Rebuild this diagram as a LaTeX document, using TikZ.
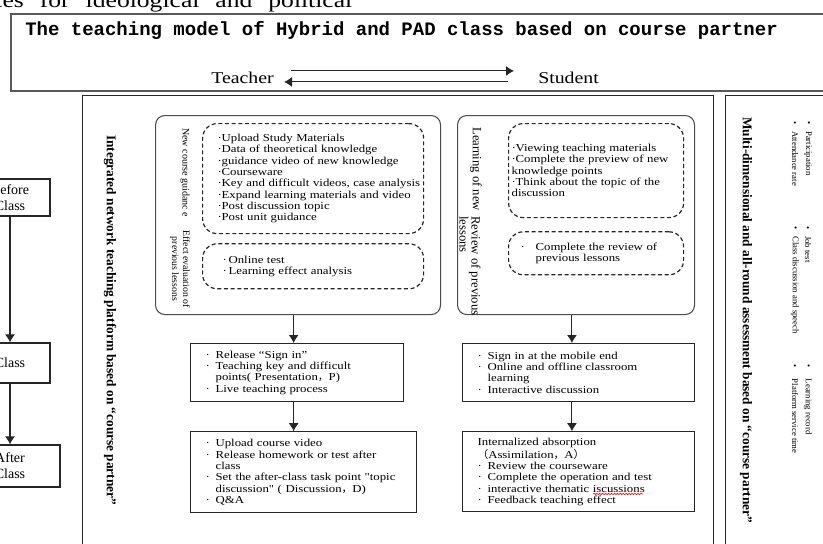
\documentclass[tikz,border=0pt]{standalone}
\usepackage{fontspec}
\setmainfont{Liberation Serif}
\newfontfamily\widefont{Liberation Serif}[FakeStretch=1.2]
\newfontfamily\headfont{Liberation Mono}
\newfontfamily\cjk{Noto Sans CJK SC}
\usepackage{tikz}
\usetikzlibrary{positioning, arrows.meta, decorations.pathmorphing}

\newcommand{\boxtext}{\widefont\fontsize{8pt}{8.5pt}\selectfont}
\newcommand{\bul}[1]{\makebox[#1][l]{·}}
\newcommand{\fw}[1]{{\cjk #1}}

\tikzset{
  outline/.style={draw=black!85, line width=0.9pt, anchor=north west, inner sep=0pt},
  panel/.style={draw=black!70, line width=0.8pt, rounded corners=7pt, anchor=north west, inner sep=0pt},
  itembox/.style={draw=black!85, line width=0.9pt, anchor=north west, align=left, inner ysep=0pt, font=\boxtext},
  dashbox/.style={itembox, dash pattern=on 3pt off 2pt, rounded corners=11pt},
  phasebox/.style={draw=black!85, line width=0.9pt, align=center, inner sep=0pt, font=\fontsize{10.5pt}{12pt}\selectfont},
  vlabel/.style={rotate=-90, inner sep=0pt},
  flow/.style={-{Latex[length=6pt,width=7.5pt]}, line width=0.8pt, draw=black!85},
}

\begin{document}
\begin{tikzpicture}[x=0.75pt, y=-0.75pt]
  \useasboundingbox (0,0) rectangle (823,543);
  \clip (0,0) rectangle (823,543);

  % header
  \node[anchor=base west, inner sep=0pt, font=\widefont\fontsize{16pt}{16pt}\selectfont] (caption) at (-9,7) {\makebox[270.75pt][s]{ces for ideological and political}};
  \node[outline, draw=black!65, line width=1.3pt, minimum width=622.5pt, minimum height=57.75pt] (header) at (10,13) {};
  \node[anchor=base west, inner sep=0pt, font=\headfont\bfseries\fontsize{14.25pt}{14.25pt}\selectfont] (title) at (25,35) {The teaching model of Hybrid and PAD class based on course partner};
  \node[anchor=base west, inner sep=0pt, font=\widefont\fontsize{12.4pt}{12.4pt}\selectfont] (teacher) at (211,83) {Teacher};
  \node[anchor=base west, inner sep=0pt, font=\widefont\fontsize{12.4pt}{12.4pt}\selectfont] (student) at (538,83) {Student};
  \draw[flow] ([xshift=12.75pt,yshift=4.8pt]teacher.east) -- ([xshift=-18pt,yshift=4.8pt]student.west);
  \draw[flow] ([xshift=-22.5pt,yshift=-3.45pt]student.west) -- ([xshift=7.5pt,yshift=-3.45pt]teacher.east);

  % phases
  \node[phasebox, minimum width=60pt, minimum height=27.75pt] (before) at (10,197.5) {Before\\Class};
  \node[phasebox, minimum width=60pt, minimum height=30pt] (inclass) at (10,363) {Class};
  \node[phasebox, minimum width=75pt, minimum height=31.5pt] (after) at (10,466) {After\\Class};
  \draw[flow] (before) -- (inclass);
  \draw[flow] (inclass) -- (after);

  % platform and assessment panels
  \node[outline, minimum width=473pt, minimum height=348.75pt] (platform) at (82,95) {};
  \node[outline, minimum width=90pt, minimum height=348.75pt] (assess) at (725,95) {};
  \node[vlabel, anchor=west, font=\bfseries\fontsize{10pt}{12pt}\selectfont] (platformtitle) at (110,135) {Integrated network teaching platform based on “course partner”};
  \node[vlabel, anchor=west, font=\bfseries\fontsize{10pt}{12pt}\selectfont] (assesstitle) at (746,117) {Multi-dimensional and all-round assessment based on “course partner”};

  % teacher side
  \node[panel, minimum width=213.75pt, minimum height=149.25pt] (tpanel) at (155,115) {};
  \node[vlabel, anchor=west, font=\fontsize{7.5pt}{9pt}\selectfont] (guidelbl) at (185,128) {New course guidanc e};
  \node[vlabel, align=center, font=\fontsize{7.3pt}{8.3pt}\selectfont] (effectlbl) at (180,269) {Effect evaluation of\\previous lessons};
  \node[dashbox, minimum height=82.5pt, inner xsep=11.25pt, text width=143.25pt] (guide) at (202,123) {%
    \bul{3pt}Upload Study Materials\\
    \bul{3pt}Data of theoretical knowledge\\
    \bul{3pt}guidance video of new knowledge\\
    \bul{3pt}Courseware\\
    \bul{3pt}\mbox{Key and difficult videos, case analysis}\\
    \bul{3pt}\mbox{Expand learning materials and video}\\
    \bul{3pt}Post discussion topic\\
    \bul{3pt}Post unit guidance};
  \node[dashbox, minimum height=33.75pt, inner xsep=15pt, text width=135.75pt,
        below=6.75pt of guide.south west, anchor=north west] (effect) {%
    \bul{4.5pt}Online test\\
    \bul{4.5pt}Learning effect analysis};

  % student side
  \node[panel, minimum width=177.75pt, minimum height=149.25pt] (spanel) at (457,115) {};
  \node[vlabel, anchor=west, font=\fontsize{9.5pt}{11pt}\selectfont] (learnlbl) at (476,127) {Learning of new};
  \node[vlabel, anchor=west, align=left, font=\fontsize{9.5pt}{9pt}\selectfont] (reviewlbl) at (470,216) {Review of previous\\lessons};
  \node[dashbox, minimum height=70.5pt, inner xsep=2.25pt, text width=126.75pt] (preview) at (508,123) {%
    \bul{3pt}Viewing teaching materials\\
    \bul{3pt}Complete the preview of new\\
    knowledge points\\
    \bul{3pt}Think about the topic of the\\
    discussion};
  \node[dashbox, minimum height=32.25pt, inner xsep=9pt, text width=113.25pt,
        below=9.75pt of preview.south west, anchor=north west] (review) {%
    \bul{11.25pt}Complete the review of\\
    \hspace*{11.25pt}previous lessons};

  % in class and after class
  \node[itembox, minimum height=43.5pt, inner xsep=11.25pt, text width=137.25pt] (release) at (190,343) {%
    \bul{7.5pt}Release “Sign in”\\
    \bul{7.5pt}Teaching key and difficult\\
    \hspace*{7.5pt}points( Presentation\fw{，}P)\\
    \bul{7.5pt}Live teaching process};
  \node[itembox, minimum height=60.75pt, inner xsep=11.25pt, text width=147pt,
        below=21.75pt of release.south west, anchor=north west] (homework) {%
    \bul{7.5pt}Upload course video\\
    \bul{7.5pt}Release homework or test after\\
    \hspace*{7.5pt}class\\
    \bul{7.5pt}Set the after-class task point "topic\\
    \hspace*{7.5pt}discussion" ( Discussion\fw{，}D)\\
    \bul{7.5pt}Q\&A};
  \node[itembox, minimum height=43.5pt, inner xsep=11.25pt, text width=151.5pt] (mobile) at (462,343) {%
    \bul{7.5pt}Sign in at the mobile end\\
    \bul{7.5pt}Online and offline classroom\\
    \hspace*{7.5pt}learning\\
    \bul{7.5pt}Interactive discussion};
  \node[itembox, minimum height=60pt, inner xsep=11.25pt, text width=151.5pt,
        below=21.75pt of mobile.south west, anchor=north west] (absorb) {%
    Internalized absorption\\
    \fw{（}Assimilation\fw{，}A\fw{）}\\
    \bul{7.5pt}Review the courseware\\
    \bul{7.5pt}Complete the operation and test\\
    \bul{7.5pt}interactive thematic iscussions\\
    \bul{7.5pt}Feedback teaching effect};
  \draw[red, line width=0.4pt, decorate, decoration={snake, amplitude=0.6pt, segment length=2.2pt}] (593,494) -- (643,494);

  \draw[flow] ([xshift=-2.6pt]release.north |- tpanel.south) -- ([xshift=-2.6pt]release.north);
  \draw[flow] ([xshift=-2.6pt]release.south) -- ([xshift=-2.6pt]release.south |- homework.north);
  \draw[flow] ([xshift=-5pt]mobile.north |- spanel.south) -- ([xshift=-5pt]mobile.north);
  \draw[flow] ([xshift=-5pt]mobile.south) -- ([xshift=-5pt]mobile.south |- absorb.north);

  % assessment items
  \node[vlabel, anchor=west, font=\fontsize{6.5pt}{8pt}\selectfont] (partic) at (808,121) {\makebox[7.5pt][l]{•}Participation};
  \node[vlabel, anchor=west, font=\fontsize{6.5pt}{8pt}\selectfont] (attend) at (795,121) {\makebox[7.5pt][l]{•}Attendance rate};
  \node[vlabel, anchor=west, font=\fontsize{6.5pt}{8pt}\selectfont] (jobtest) at (808,226) {\makebox[7.5pt][l]{•}Job test};
  \node[vlabel, anchor=west, font=\fontsize{6.5pt}{8pt}\selectfont] (speech) at (795,226) {\makebox[7.5pt][l]{•}Class discussion and speech};
  \node[vlabel, anchor=west, font=\fontsize{6.5pt}{8pt}\selectfont] (record) at (808,364) {\makebox[11pt][l]{•}Learning record};
  \node[vlabel, anchor=west, font=\fontsize{6.5pt}{8pt}\selectfont] (service) at (795,364) {\makebox[11pt][l]{•}Platform service time};
\end{tikzpicture}
\end{document}
